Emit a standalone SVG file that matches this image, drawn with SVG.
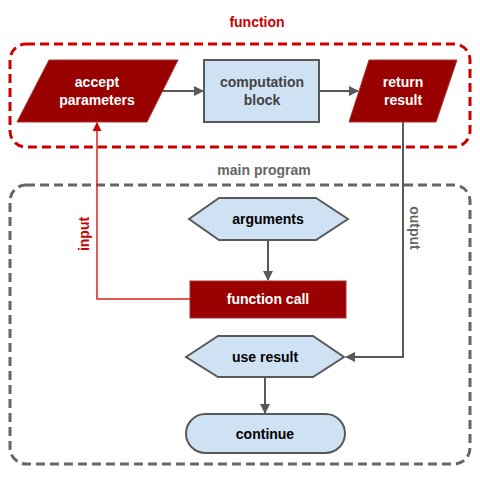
<svg xmlns="http://www.w3.org/2000/svg" width="480" height="480" viewBox="0 0 480 480">
<style>
text{font-family:"Liberation Sans",Arial,sans-serif;font-weight:bold;font-size:14px;text-anchor:middle}
.red{fill:#990000;stroke:#a33;stroke-width:1}
.blue{fill:#cfe2f3;stroke:#595959;stroke-width:2}
.wt{fill:#ffffff}
.dk{fill:#000000}
.gt{fill:#434343}
.conn{fill:none;stroke:#595959;stroke-width:2}
</style>
<defs>
<marker id="ag" viewBox="0 0 10 10" refX="9" refY="5" markerWidth="5" markerHeight="5" orient="auto" markerUnits="strokeWidth"><path d="M0,0L10,5L0,10z" fill="#595959"/></marker>
<marker id="ar" viewBox="0 0 10 10" refX="9" refY="5" markerWidth="6" markerHeight="6" orient="auto" markerUnits="strokeWidth"><path d="M0,0L10,5L0,10z" fill="#cc0000"/></marker>
</defs>
<g id="function-group">
<rect x="10" y="44" width="460" height="103" rx="16" fill="none" stroke="#cc0000" stroke-width="3" stroke-dasharray="9,5"/>
<text x="257" y="27" fill="#cc0000">function</text>
</g>
<g id="main-group">
<rect x="10" y="185" width="460" height="279" rx="16" fill="none" stroke="#666666" stroke-width="3" stroke-dasharray="9,5"/>
<text x="264" y="175" fill="#666666">main program</text>
</g>
<g id="connectors">
<path class="conn" d="M162,91H203" marker-end="url(#ag)"/>
<path class="conn" d="M319,91H358" marker-end="url(#ag)"/>
<path class="conn" d="M268,240V280" marker-end="url(#ag)"/>
<path class="conn" d="M265,377V413" marker-end="url(#ag)"/>
<path class="conn" d="M403,122V357H346" marker-end="url(#ag)"/>
<path fill="none" stroke="#dd2222" stroke-width="1.5" d="M190,299H97V123" marker-end="url(#ar)"/>
<text transform="translate(89,234) rotate(-90)" fill="#cc0000">input</text>
<text transform="translate(410,228) rotate(90)" fill="#666666">output</text>
</g>
<g id="accept-parameters">
<path class="red" d="M49,60H178L147,122H17z"/>
<text x="97" y="87" class="wt">accept</text>
<text x="97" y="105" class="wt">parameters</text>
</g>
<g id="computation-block">
<rect class="blue" x="204" y="60" width="115" height="62"/>
<text x="262" y="87" class="gt">computation</text>
<text x="262" y="105" class="gt">block</text>
</g>
<g id="return-result">
<path class="red" d="M369,60H457L436,122H349z"/>
<text x="403" y="87" class="wt">return</text>
<text x="403" y="105" class="wt">result</text>
</g>
<g id="arguments">
<path class="blue" d="M189,219L219,198H316L348,219L316,240H219z"/>
<text x="268" y="224" class="dk">arguments</text>
</g>
<g id="function-call">
<rect class="red" x="190" y="281" width="156" height="37"/>
<text x="268" y="304" class="wt">function call</text>
</g>
<g id="use-result">
<path class="blue" d="M186,357L218,336H313L344,357L313,377H218z"/>
<text x="265" y="362" class="dk">use result</text>
</g>
<g id="continue">
<rect class="blue" x="186" y="414" width="159" height="39" rx="19.5"/>
<text x="265" y="439" class="dk">continue</text>
</g>
</svg>
